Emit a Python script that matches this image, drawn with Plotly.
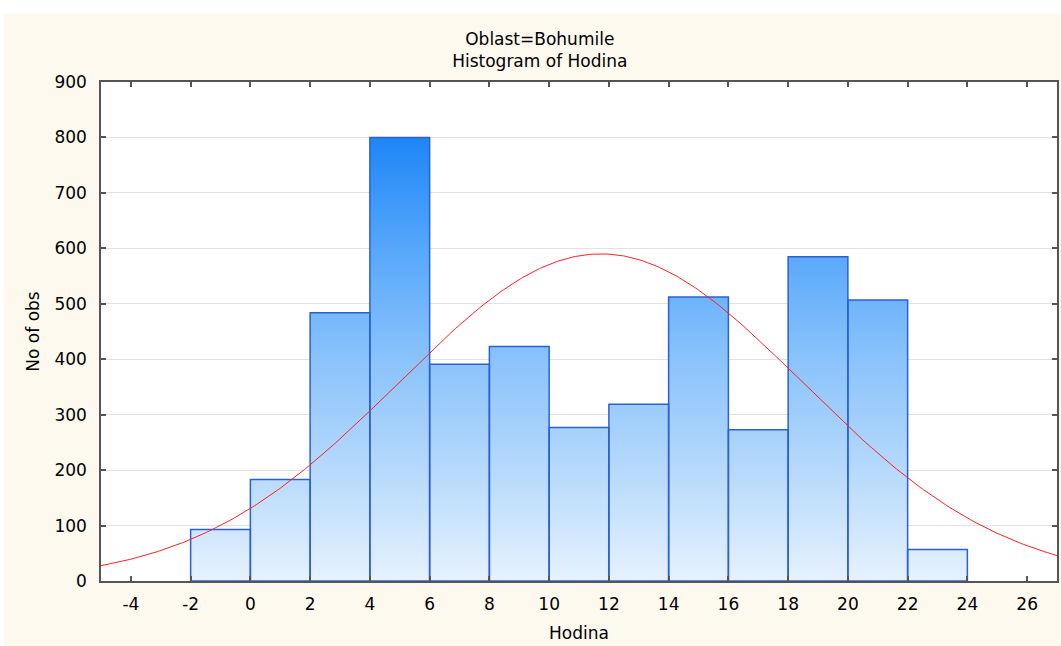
import plotly.graph_objects as go
import numpy as np

# ---- data ----
bin_left = [-2, 0, 2, 4, 6, 8, 10, 12, 14, 16, 18, 20, 22]
bin_width = 2
counts = [93, 183, 484, 800, 391, 423, 277, 319, 512, 273, 585, 507, 57]

# fitted normal curve parameters
curve_mean = 11.73
curve_sd = 6.76
curve_peak = 590

x_ticks = [-4, -2, 0, 2, 4, 6, 8, 10, 12, 14, 16, 18, 20, 22, 24, 26]
x_ticktext = ["-4", "-2", "0", "2", "4", "6", "8", "10", "12", "14", "16", "18", "20", "22", "24", "26"]
y_ticks = [0, 100, 200, 300, 400, 500, 600, 700, 800, 900]
y_ticktext = ["0", "100", "200", "300", "400", "500", "600", "700", "800", "900"]

# ---- build bar polygons from the bins ----
px, py = [], []
for left, c in zip(bin_left, counts):
    r = left + bin_width
    px += [left, left, r, r, left, None]
    py += [0, c, c, 0, 0, None]

xc = np.linspace(-5, 27, 400)
yc = curve_peak * np.exp(-((xc - curve_mean) ** 2) / (2 * curve_sd ** 2))

FONT = "DejaVu Sans"
CREAM = "#fef9ef"
TXT = "#000000"

fig = go.Figure()
fig.add_trace(go.Scatter(
    x=px, y=py, mode="lines", fill="toself",
    line=dict(color="#2b5fd6", width=1.5),
    fillgradient=dict(
        type="vertical",
        start=0, stop=800,
        colorscale=[[0, "#e6f2fe"], [0.25, "#b6d9fc"], [0.5, "#8ac3fb"],
                    [0.65, "#6bb2fb"], [0.75, "#56a7fb"], [1, "#1e86f7"]],
    ),
    hoverinfo="skip", showlegend=False,
))
fig.add_trace(go.Scatter(
    x=xc, y=yc, mode="lines",
    line=dict(color="#ff2020", width=1),
    showlegend=False, hoverinfo="skip",
))

axis_common = dict(
    showline=True, linecolor="#555555", linewidth=1.5, mirror="ticks",
    ticks="inside", ticklen=5, tickcolor="#555555", tickwidth=1.5,
    zeroline=False,
    tickfont=dict(family=FONT, size=17, color=TXT),
)

fig.update_xaxes(
    range=[-5, 27], tickvals=x_ticks, ticktext=x_ticktext, showgrid=False,
    title=dict(text="Hodina", font=dict(family=FONT, size=17, color=TXT), standoff=14),
    ticklabelstandoff=7,
    **axis_common,
)
fig.update_yaxes(
    range=[0, 900], tickvals=y_ticks, ticktext=y_ticktext,
    showgrid=True, gridcolor="#e2e2e2", gridwidth=1,
    title=dict(text="No of obs", font=dict(family=FONT, size=17, color=TXT), standoff=10),
    ticklabelstandoff=9,
    **axis_common,
)

fig.update_layout(
    width=1061, height=646,
    margin=dict(l=101, r=2, t=82, b=65),
    paper_bgcolor=CREAM, plot_bgcolor="white",
    title=dict(
        text="Oblast=Bohumile<br>Histogram of Hodina",
        x=0.459, xref="paper", xanchor="center",
        y=0.931, yanchor="middle",
        font=dict(family=FONT, size=17, color=TXT),
    ),
    shapes=[
        dict(type="rect", xref="paper", yref="paper", x0=-0.2, x1=1.1, y0=1.138, y1=1.3,
             fillcolor="white", line_width=0, layer="below"),
        dict(type="rect", xref="paper", yref="paper", x0=-0.2, x1=-0.1013, y0=-0.3, y1=1.3,
             fillcolor="white", line_width=0, layer="below"),
    ],
)

fig.write_html("out.html")
